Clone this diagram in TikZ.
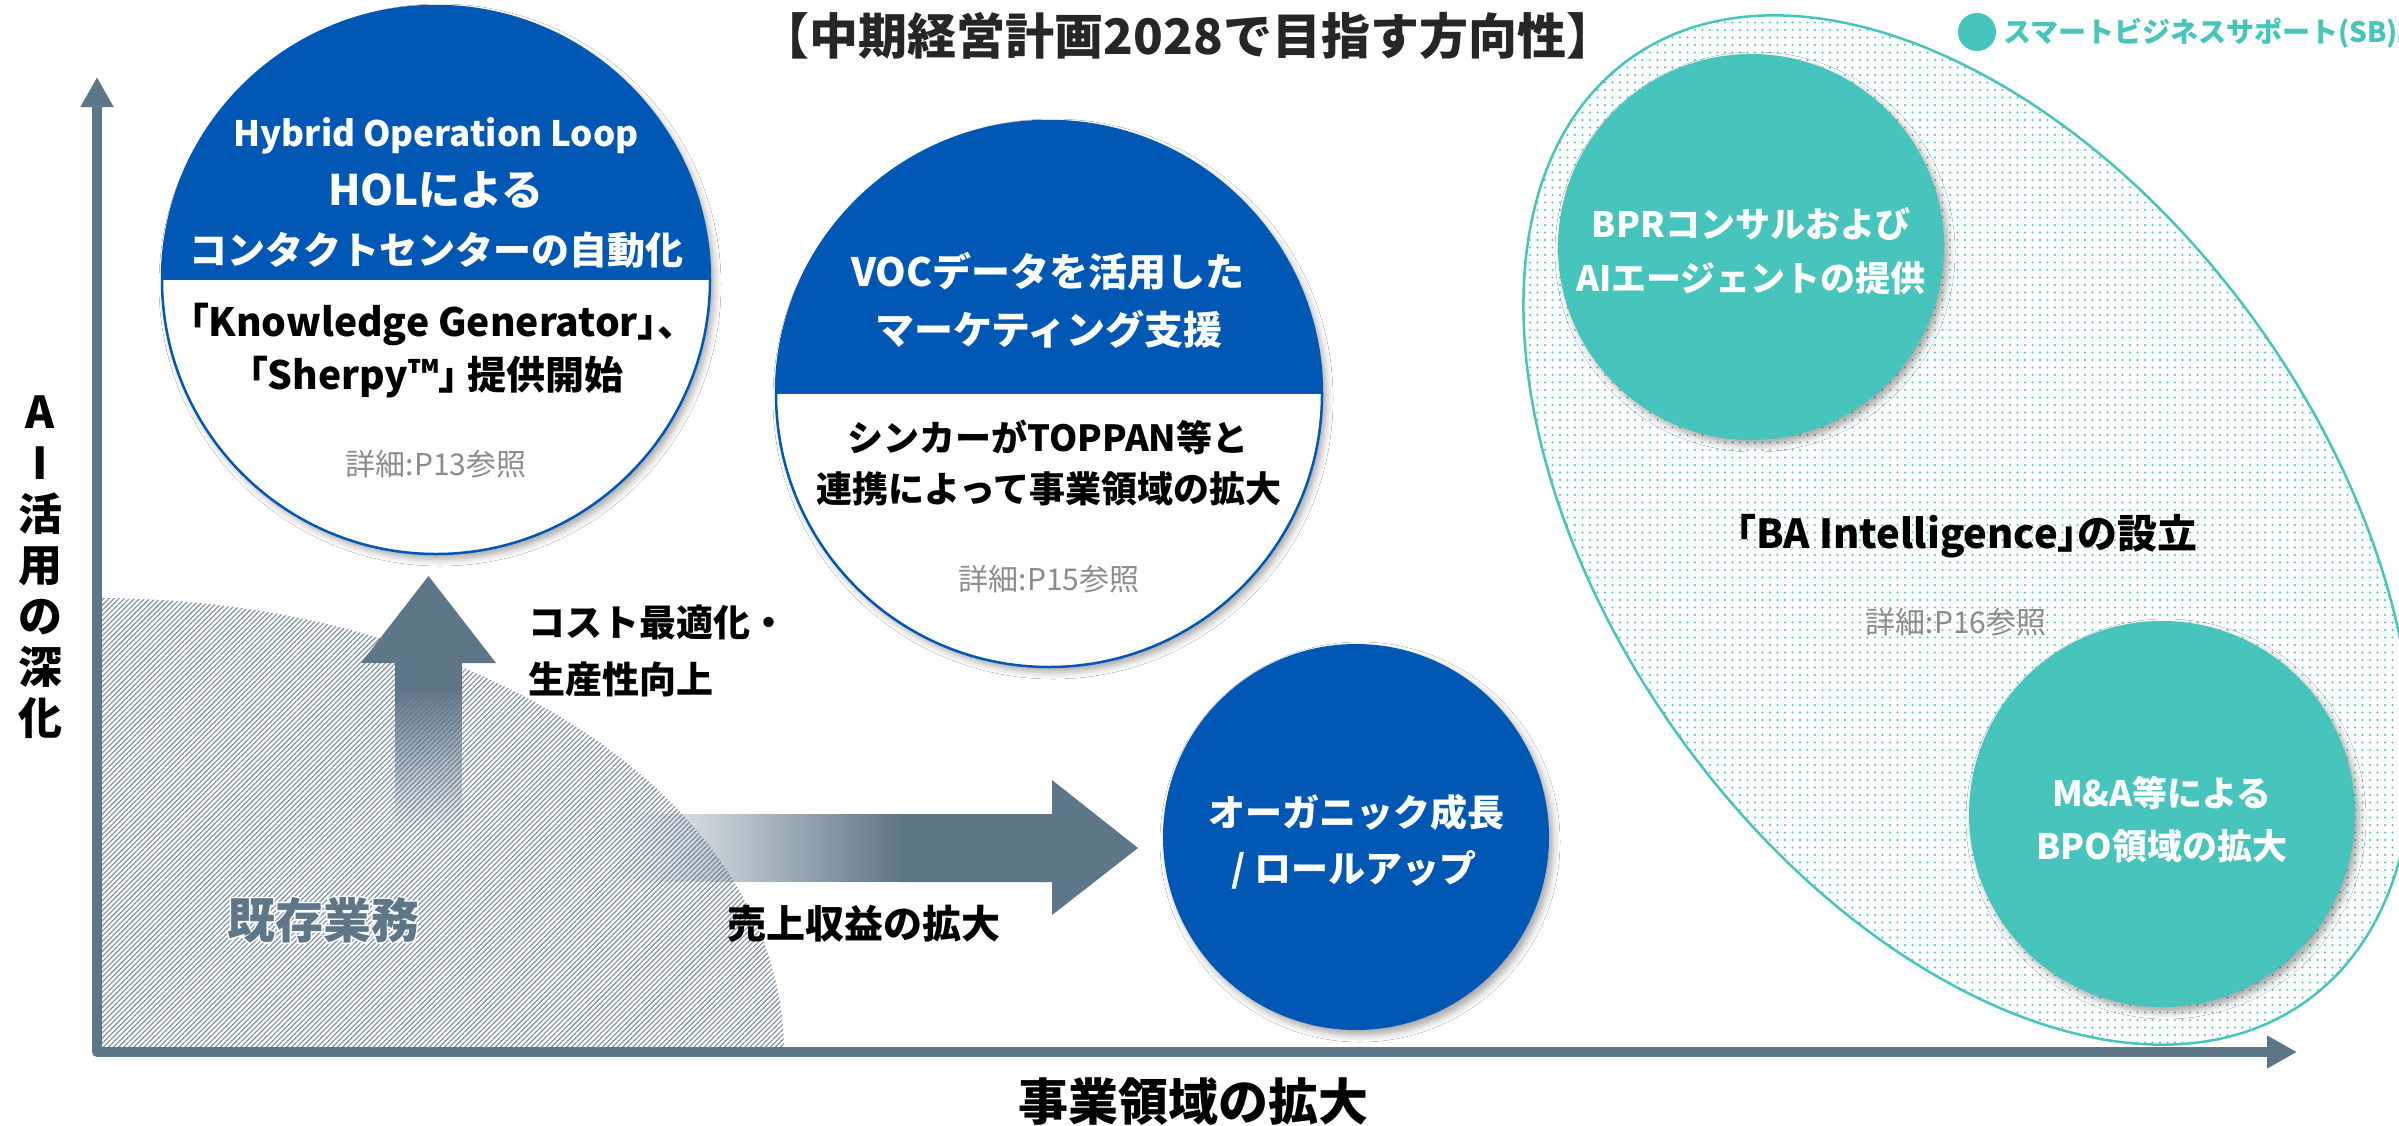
\documentclass[tikz,border=0pt]{standalone}
\usepackage{fontspec}
\setmainfont{Noto Sans CJK JP}
\usetikzlibrary{arrows.meta,patterns.meta,shapes.geometric,shadows.blur,fadings}
\definecolor{hblue}{RGB}{0,87,180}
\definecolor{sbteal}{RGB}{71,196,188}
\definecolor{axisc}{RGB}{93,118,136}
\definecolor{hatchc}{RGB}{122,140,154}
\definecolor{titlec}{RGB}{38,38,38}
\definecolor{notec}{RGB}{140,140,140}
\newcommand\pw[1]{{\addfontfeature{CharacterWidth=AlternateProportional}#1}}
\newcommand\glowtext[3]{\leavevmode\rlap{\color{#1}\addfontfeature{FakeBold=6}#3}{\color{#2}#3}}
\tikzfading[name=fadeR, left color=transparent!100, right color=transparent!0]
\tikzfading[name=fadeD, top color=transparent!0, bottom color=transparent!100]
\tikzset{
  txt/.style={inner sep=0pt, outer sep=0pt, align=center},
  wb/.style={txt, text=white, font=\bfseries\fontsize{#1}{#1}\selectfont},
  kb/.style={txt, text=black, font=\bfseries\fontsize{#1}{#1}\selectfont},
  note/.style={txt, text=notec, font=\fontsize{30}{30}\selectfont},
  bigc/.style={circle, minimum size=#1, inner sep=0pt, outer sep=0pt},
  shadowed/.style={blur shadow={shadow xshift=4pt, shadow yshift=-5pt, shadow blur radius=7pt, shadow opacity=35}},
  axisline/.style={draw=axisc, line width=10pt, line join=round},
}
\begin{document}
\begin{tikzpicture}[x=1pt, y=-1pt]
\path[use as bounding box] (0,0) rectangle (2399,1125);
\clip (0,0) rectangle (2399,1125);
\fill[white] (0,0) rectangle (2399,1125);

% existing business hatched quarter ellipse
\fill[pattern={Lines[angle=45, distance=3.6pt, line width=1.1pt]}, pattern color=hatchc]
  (97,1052) -- (97,598) arc[start angle=-90, end angle=0, x radius=687, y radius=454] -- cycle;

% SB ellipse
\node[ellipse, draw=sbteal, line width=2.5pt, pattern={Dots[distance=7.5pt, radius=1.1pt]}, pattern color=sbteal,
      minimum width=1160pt, minimum height=710pt, inner sep=0pt, rotate=-54.3] (sb) at (1968,530) {};

% axes
\coordinate (O) at (97,1052);
\coordinate (Xe) at (2297,1052);
\coordinate (Ye) at (97,77);
\draw[axisline, {Triangle[length=30pt,width=31pt]}-{Triangle[length=30pt,width=31pt]}] (Ye) -- (O) -- (Xe);

% up arrow
\fill[axisc, path fading=fadeD] (395,688) rectangle (462,835);
\fill[axisc] (395,690) -- (395,663) -- (361,663) -- (428.5,576) -- (496,663) -- (462,663) -- (462,690) -- cycle;
% right arrow
\fill[axisc, path fading=fadeR] (612,814) rectangle (902,882);
\fill[axisc] (900,814) -- (1052,814) -- (1052,780) -- (1138,848) -- (1052,915) -- (1052,882) -- (900,882) -- cycle;

% circle 1
\node[bigc=548pt, fill=white, draw=hblue, line width=2.5pt, shadowed] (c1) at (436,280) {};
\begin{scope}
  \clip (436,280) circle (274pt);
  \fill[hblue] (150,0) rectangle (720,280);
\end{scope}
\node[wb=35] (h1a) at (436,136) {Hybrid Operation Loop};
\node[wb=42] (h1b) at (436,190) {HOLによる};
\node[wb=38] (h1c) at (436,250) {コンタクトセンターの自動化};
\node[kb=39] (b1a) at (433,324) {\pw{「}Knowledge Generator\pw{」、}};
\node[kb=39] (b1b) at (436,377) {\pw{「}Sherpy™\pw{」} 提供開始};
\node[note] (n1) at (436,464) {詳細:P13参照};

% circle 2
\node[bigc=546pt, fill=white, draw=hblue, line width=2.5pt, shadowed] (c2) at (1049,394) {};
\begin{scope}
  \clip (1049,394) circle (273pt);
  \fill[hblue] (760,100) rectangle (1340,394);
\end{scope}
\node[wb=39] (h2a) at (1048,271) {VOCデータを活用した};
\node[wb=39] (h2b) at (1049,329) {マーケティング支援};
\node[kb=36] (b2a) at (1048,437) {シンカーがTOPPAN等と};
\node[kb=36] (b2b) at (1049,489) {連携によって事業領域の拡大};
\node[note] (n2) at (1049,579) {詳細:P15参照};

% circle 3
\node[bigc=386pt, fill=hblue, shadowed] (c3) at (1356,837) {};
\node[wb=37] (t3a) at (1356,812) {オーガニック成長};
\node[wb=37] (t3b) at (1354,870) {/ ロールアップ};

% teal circles
\node[bigc=386pt, fill=sbteal, shadowed] (c4) at (1751,247) {};
\node[wb=35] (t4a) at (1751,224) {BPRコンサルおよび};
\node[wb=35] (t4b) at (1751,278) {AIエージェントの提供};
\node[bigc=386pt, fill=sbteal, shadowed] (c5) at (2162,814) {};
\node[wb=35] (t5a) at (2162,793) {M\&A等による};
\node[wb=35] (t5b) at (2162,846) {BPO領域の拡大};

\node[kb=40] (ba) at (1967,536) {\pw{「}BA Intelligence\pw{」}の設立};
\node[note] (n3) at (1956,622) {詳細:P16参照};

% labels
\node[kb=49, text=titlec] (title) at (1188,36) {【中期経営計画2028で目指す方向性】};
\node[bigc=38pt, fill=sbteal] (lg) at (1977,32) {};
\node[txt, anchor=west, text=sbteal, font=\bfseries\fontsize{28}{28}\selectfont] (lgt) at (2003,33) {スマートビジネスサポート(SB)業務};

\node[kb=44, font=\bfseries\fontsize{44}{51}\selectfont] (ylab) at (40,567) {A\\I\\活\\用\\の\\深\\化};
\node[kb=50] (xlab) at (1193,1102) {事業領域の拡大};

\node[kb=37, anchor=west] (cost1) at (528,622) {コスト最適化・};
\node[kb=37, anchor=west] (cost2) at (528,679) {生産性向上};
\node[kb=39, anchor=west] (sales) at (727,924) {売上収益の拡大};

\node[kb=48] (exist) at (323,920) {\glowtext{white}{axisc}{既存業務}};
\end{tikzpicture}
\end{document}
